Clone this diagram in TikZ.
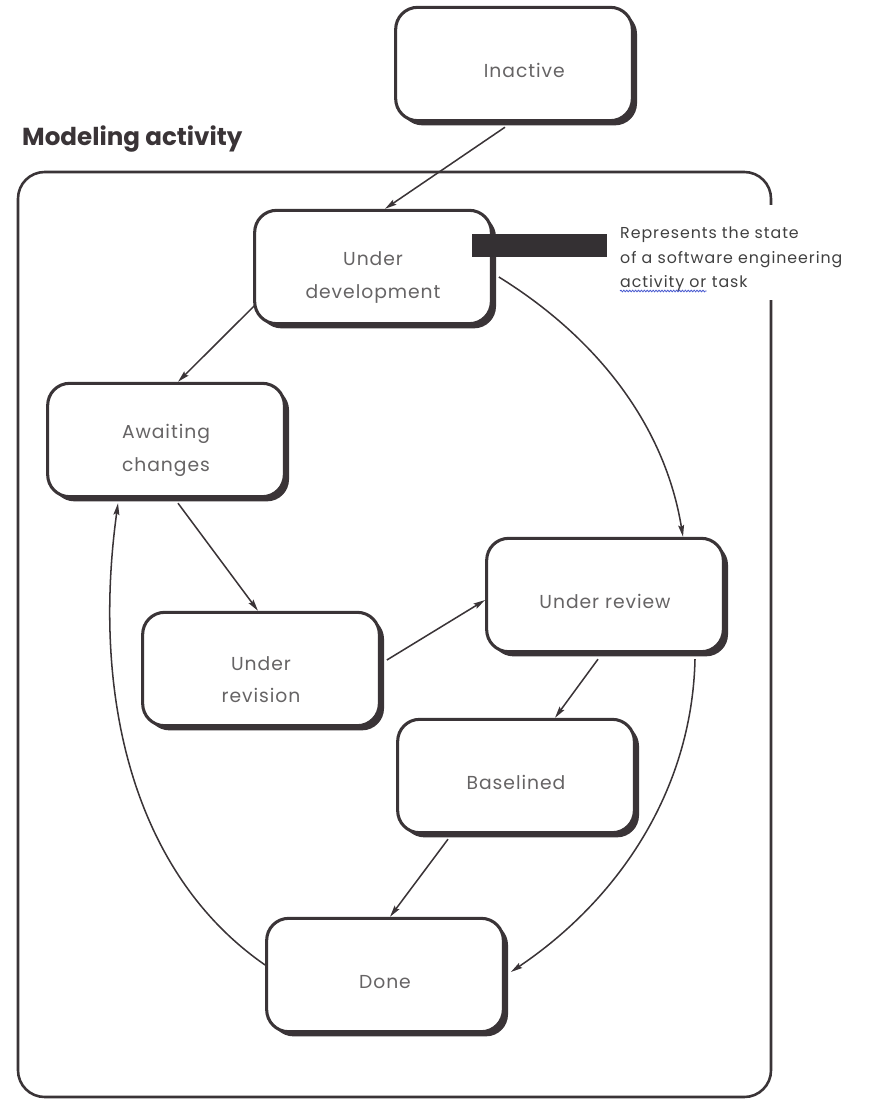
\documentclass[tikz,border=0pt]{standalone}
\usepackage{fontspec}
\setmainfont{Poppins}
\usetikzlibrary{arrows.meta,shadows,calc,decorations.pathmorphing}
\definecolor{ink}{HTML}{3A3437}
\definecolor{label}{HTML}{666465}
\definecolor{spell}{HTML}{4A5BD0}
\definecolor{barfill}{HTML}{343033}
% raises the top of a label's first line so the text sits a little low in its box
\newcommand{\toplift}{\rule{0pt}{30pt}}

\begin{document}
\begin{tikzpicture}[x=0.03cm,y=-0.03cm,
  state/.style={draw=ink, line width=2.6pt, fill=white, rounded corners=0.66cm,
    minimum width=7.1cm, minimum height=3.4cm, align=center, text=label,
    font=\fontsize{16}{28}\selectfont\addfontfeatures{LetterSpace=5},
    drop shadow={shadow xshift=4pt, shadow yshift=-4pt, opacity=1, fill=ink}},
  flow/.style={draw=ink, line width=1.3pt, -{Stealth[length=10pt,width=5pt,inset=1.5pt]}},
  note/.style={anchor=base west, inner sep=0pt, text=black!75,
    font=\fontsize{13.5}{15}\selectfont\addfontfeatures{LetterSpace=6}}]

\useasboundingbox (0,0) rectangle (876,1101);

% activity frame, open on the right where the note sits
\draw[ink, line width=2.2pt, rounded corners=0.8cm]
  (771,300) -- (771,1097) -- (18,1097) -- (18,172) -- (771,172) -- (771,205);
\node (title) [anchor=base west, inner sep=0pt, text=ink,
  font=\fontsize{21}{23}\selectfont\bfseries] at (22,146) {Modeling activity};

% states
\node[state] (ina) at (514,64)  {\rule{0pt}{23pt}\hspace*{1.1em}Inactive};
\node[state] (dev) at (373,267) {\toplift Under\\development};
\node[state] (awa) at (166,440) {\toplift Awaiting\\changes};
\node[state] (rvs) at (261,669) {\toplift Under\\revision};
\node[state] (rvw) at (605,595) {\rule{0pt}{23pt}Under review};
\node[state] (bsl) at (516,776) {\rule{0pt}{23pt}Baselined};
\node[state] (don) at (385,975) {\rule{0pt}{23pt}Done};

% callout bar and note
\node (bar) [fill=barfill, inner sep=0pt, minimum width=4.05cm, minimum height=0.69cm]
  at (539.5,245.5) {};
\node[note] (n1) at (620,238) {Represents the state};
\node[note] (n2) at (620,263) {of a software engineering};
\node[note] (n3) at (620,287) {activity or};
\node[note] (n4) at ($(n3.base east)+(5,0)$) {task};
\draw[spell, line width=0.7pt, decorate, decoration={snake, amplitude=0.7pt, segment length=2.5pt}]
  ($(n3.base west)+(0,4)$) -- ($(n3.base east)+(0,4)$);

% transitions
\draw[flow] ($(ina.south)+(-9,5)$) -- ($(dev.north)+(12,0)$);
\draw[flow] ($(dev.west)+(2,38)$) -- ($(awa.north)+(12,0)$);
\draw[flow] ($(dev.east)+(6,10)$) .. controls +(100,62) and +(-18,-110) .. ($(rvw.north)+(78,0)$);
\draw[flow] ($(awa.south)+(12,5)$) -- ($(rvs.north)+(-3,0)$);
\draw[flow] ($(rvs.east)+(6,-9)$) -- ($(rvw.west)+(0,5)$);
\draw[flow] ($(rvw.south)+(-7,6)$) -- ($(bsl.north)+(39,0)$);
\draw[flow] ($(bsl.south)+(-68,5)$) -- ($(don.north)+(5,0)$);
\draw[flow] ($(don.west)+(0,-10)$) .. controls +(-130,-90) and +(-27,197) .. ($(awa.south)+(-48,5)$);
\draw[flow] ($(rvw.south)+(90,6)$) .. controls +(-3,132) and +(107,-72) .. ($(don.east)+(6,-3)$);

\end{tikzpicture}
\end{document}
